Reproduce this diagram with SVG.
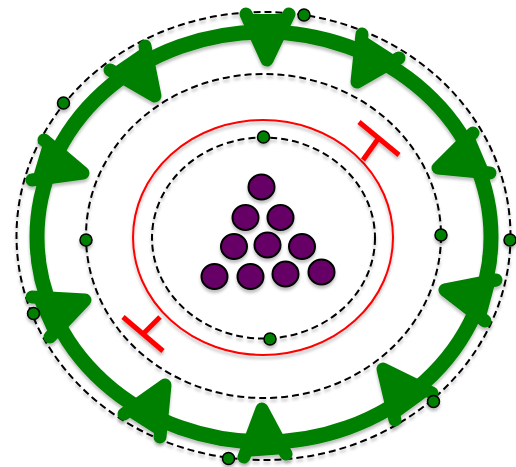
<svg xmlns="http://www.w3.org/2000/svg" width="516" height="467" viewBox="0 0 516 467">
<defs>
<filter id="sh" x="-10%" y="-10%" width="120%" height="130%">
<feDropShadow dx="0" dy="3" stdDeviation="1.5" flood-color="#000" flood-opacity="0.25"/>
</filter>
<style>
.dash{fill:none;stroke:#000;stroke-width:2;stroke-dasharray:7 4}
.ring{fill:none;stroke:#008000;stroke-width:15}
.ah{fill:#008000;stroke:#008000;stroke-width:13;stroke-linecap:round;stroke-linejoin:round}
.dot{fill:#008000;stroke:#000;stroke-width:1.5}
.mol{fill:#660066;stroke:#000;stroke-width:2}
.bar{fill:none;stroke:#ff0000;stroke-width:5}
</style>
</defs>
<rect width="516" height="467" fill="#fff"/>
<g id="orbits" filter="url(#sh)">
<ellipse id="outer-orbit" class="dash" cx="263.5" cy="236" rx="247" ry="224"/>
<ellipse id="middle-orbit" class="dash" cx="263.5" cy="236" rx="177.5" ry="162"/>
<ellipse id="inner-orbit" class="dash" cx="263.5" cy="238" rx="111.5" ry="100.5"/>
<ellipse id="red-membrane" fill="none" stroke="#ff0000" stroke-width="2" cx="263" cy="237.5" rx="130" ry="117.5"/>
</g>
<g id="connectors" filter="url(#sh)">
<ellipse id="green-cycle" class="ring" cx="264" cy="237" rx="227" ry="205"/>
<polyline class="ah" points="246,14 267,60 289,14"/>
<polyline class="ah" points="362,34 357,82 399,58"/>
<polyline class="ah" points="473,133 438,168 490,173"/>
<polyline class="ah" points="496,280 445,290 485,321"/>
<polyline class="ah" points="395,420 383,369 432,393"/>
<polyline class="ah" points="244,457 262,409 286,454"/>
<polyline class="ah" points="124,414 165,385 160,437"/>
<polyline class="ah" points="32,297 85,300 50,337"/>
<polyline class="ah" points="44,140 83,173 32,180"/>
<polyline class="ah" points="145,46 155,96 110,70"/>
<g id="inhibit-top-right">
<line class="bar" x1="363" y1="160" x2="378" y2="139"/>
<line class="bar" x1="359" y1="122" x2="399" y2="155"/>
</g>
<g id="inhibit-bottom-left">
<line class="bar" x1="160" y1="317" x2="143" y2="334"/>
<line class="bar" x1="123" y1="317" x2="163" y2="351"/>
</g>
</g>
<g id="dots" filter="url(#sh)">
<circle class="dot" cx="304" cy="15" r="6"/>
<circle class="dot" cx="63.5" cy="103" r="6"/>
<circle class="dot" cx="33.5" cy="313.5" r="6"/>
<circle class="dot" cx="510" cy="240" r="6"/>
<circle class="dot" cx="433.5" cy="401.5" r="6"/>
<circle class="dot" cx="228.5" cy="458.5" r="6"/>
<circle class="dot" cx="86" cy="240" r="6"/>
<circle class="dot" cx="441" cy="235" r="6"/>
<circle class="dot" cx="263.5" cy="137" r="6"/>
<circle class="dot" cx="270" cy="339" r="6"/>
</g>
<g id="molecules" filter="url(#sh)">
<ellipse class="mol" cx="261.5" cy="187" rx="13" ry="12.5"/>
<ellipse class="mol" cx="245.5" cy="217.5" rx="13" ry="12.5"/>
<ellipse class="mol" cx="280.5" cy="217.5" rx="13" ry="12.5"/>
<ellipse class="mol" cx="234" cy="246.5" rx="13" ry="12.5"/>
<ellipse class="mol" cx="267.5" cy="245" rx="13" ry="12.5"/>
<ellipse class="mol" cx="302" cy="246.5" rx="13" ry="12.5"/>
<ellipse class="mol" cx="214.5" cy="276.5" rx="13" ry="12.5"/>
<ellipse class="mol" cx="250.5" cy="276.5" rx="13" ry="12.5"/>
<ellipse class="mol" cx="285.5" cy="274" rx="13" ry="12.5"/>
<ellipse class="mol" cx="321.5" cy="272" rx="13" ry="12.5"/>
</g>
</svg>
